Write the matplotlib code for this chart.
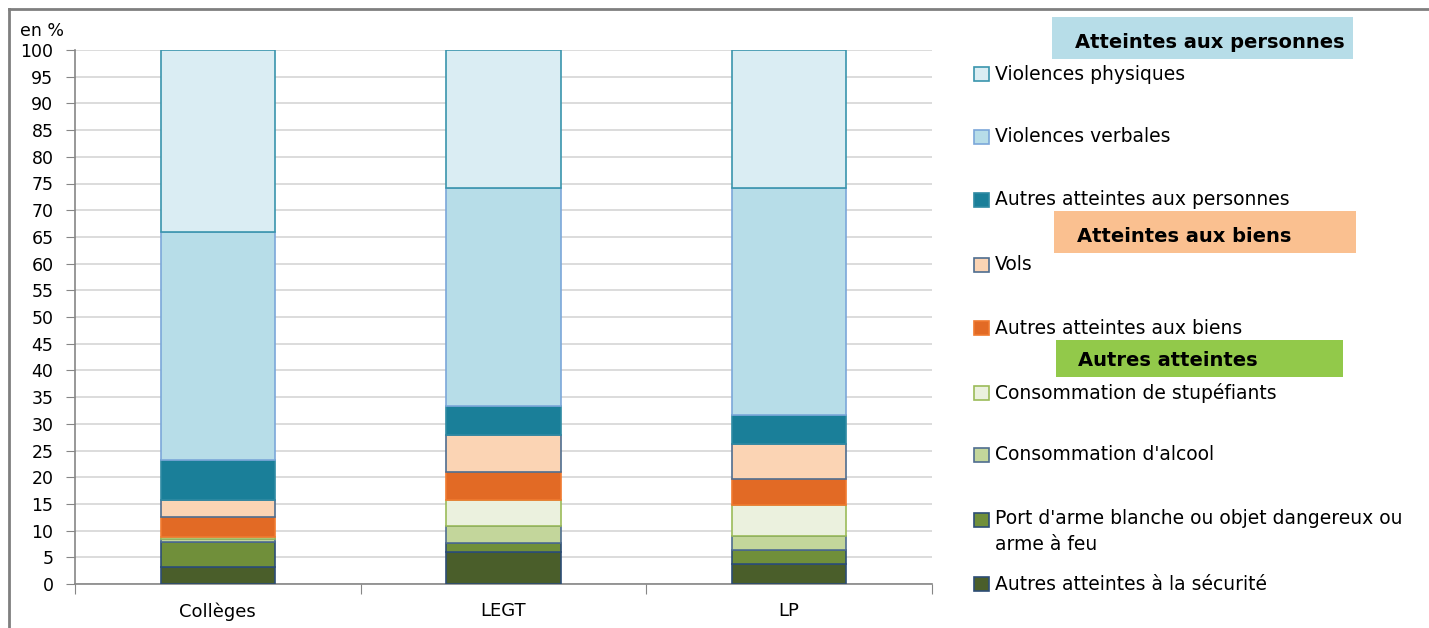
import numpy as np
import matplotlib.pyplot as plt
from matplotlib.patches import Rectangle
from matplotlib.lines import Line2D

plt.rcParams['font.family'] = ['DejaVu Sans']

categories = ['Collèges', 'LEGT', 'LP']

# series, bottom to top (values in %)
securite = [3.1, 5.9, 3.8]
arme = [4.7, 1.7, 2.6]
alcool = [0.6, 3.3, 2.6]
stupefiants = [0.4, 4.8, 5.8]
autres_biens = [3.7, 5.3, 4.9]
vols = [3.3, 6.9, 6.5]
autres_personnes = [7.4, 5.5, 5.5]
verbales = [42.7, 40.8, 42.5]
physiques = [34.1, 25.8, 25.8]

series = [securite, arme, alcool, stupefiants, autres_biens, vols,
          autres_personnes, verbales, physiques]
labels = ["Autres atteintes à la sécurité",
          "Port d'arme blanche ou objet dangereux ou\narme à feu",
          "Consommation d'alcool",
          "Consommation de stupéfiants",
          "Autres atteintes aux biens",
          "Vols",
          "Autres atteintes aux personnes",
          "Violences verbales",
          "Violences physiques"]
fills = ['#4a5e2a', '#708f3a', '#c3d69b', '#ebf1de', '#e26a25',
         '#fbd4b4', '#1a7f99', '#b7dde8', '#daedf3']
edges = ['#2c4d75', '#2c4d75', '#4f6d8f', '#9bbb59', '#f07a30',
         '#4f6d8f', '#2f8aa3', '#7ba7d9', '#3a95ad']

FS = 12.5      # tick labels
FS_LEG = 13.5  # legend text

fig = plt.figure(figsize=(14.29, 6.28), dpi=100)
ax = fig.add_axes([75/1429, 1 - 584/628, (932 - 75)/1429, (584 - 50)/628])

x = np.arange(len(categories))
bottom = np.zeros(len(categories))
for vals, fc, ec in zip(series, fills, edges):
    ax.bar(x, vals, width=0.4, bottom=bottom, color=fc, edgecolor=ec,
           linewidth=1.2, zorder=3)
    bottom += np.array(vals)

ax.set_xlim(-0.5, 2.5)
ax.set_ylim(0, 100)
ax.set_yticks(np.arange(0, 101, 5))
ax.tick_params(axis='y', labelsize=FS, length=6.5, color='#868686', pad=9)
ax.yaxis.grid(True, color='#d9d9d9', linewidth=1.3, zorder=0)
ax.set_axisbelow(True)

ax.set_xticks([-0.5, 0.5, 1.5, 2.5])
ax.set_xticklabels([])
ax.set_xticks(x, minor=True)
ax.set_xticklabels(categories, minor=True)
ax.tick_params(axis='x', which='major', length=7, color='#868686')
ax.tick_params(axis='x', which='minor', length=0, labelsize=13, pad=13)

for s in ['top', 'right']:
    ax.spines[s].set_visible(False)
for s in ['left', 'bottom']:
    ax.spines[s].set_color('#868686')
    ax.spines[s].set_linewidth(1.2)

fig.text(20/1429, 1 - 31/628, 'en %', fontsize=FS, va='center', ha='left')

# outer frame (top and left only visible)
fig.add_artist(Line2D([9/1429, 1], [1 - 9/628, 1 - 9/628], color='#7f7f7f', linewidth=2))
fig.add_artist(Line2D([9/1429, 9/1429], [0, 1 - 9/628], color='#7f7f7f', linewidth=2))


def fx(px):
    return px / 1429


def fy(py):
    return 1 - py / 628


# group headers
headers = [("Atteintes aux personnes", '#b7dde8', 1052, 1353, 17, 59, 1075),
           ("Atteintes aux biens", '#fac090', 1054, 1356, 211, 253, 1077),
           ("Autres atteintes", '#92c94a', 1056, 1343, 340, 377, 1078)]
for txt, col, x0, x1, y0, y1, tx in headers:
    fig.add_artist(Rectangle((fx(x0), fy(y1)), (x1 - x0)/1429, (y1 - y0)/628,
                             facecolor=col, edgecolor='none'))
    fig.text(fx(tx), fy(y1 - 17), txt, fontsize=14, fontweight='bold',
             va='center', ha='left')

# legend items
item_y = [74, 137, 200, 265, 328, 393, 455, 520, 584]
order = [8, 7, 6, 5, 4, 3, 2, 1, 0]
for py, i in zip(item_y, order):
    fig.add_artist(Rectangle((fx(974), fy(py + 7)), 15/1429, 14/628,
                             facecolor=fills[i], edgecolor=edges[i], linewidth=1.2))
    if '\n' in labels[i]:
        fig.text(fx(995), fy(py - 11), labels[i], fontsize=FS_LEG, va='top',
                 ha='left', linespacing=1.45)
    else:
        fig.text(fx(995), fy(py), labels[i], fontsize=FS_LEG, va='center', ha='left')

fig.savefig('out.png', dpi=100)
